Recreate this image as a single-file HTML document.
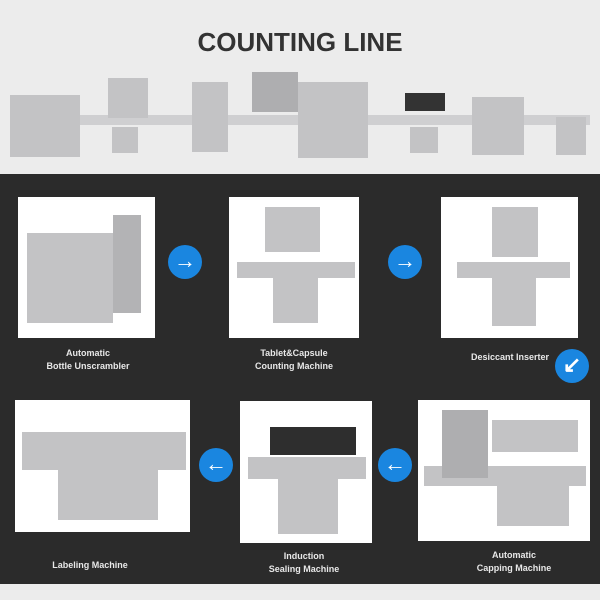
<!DOCTYPE html>
<html><head><style>
body{margin:0;width:600px;height:600px;overflow:hidden;background:#ececec;font-family:"Liberation Sans",sans-serif;position:relative}
.a{position:absolute}
.dark{left:0;top:174px;width:600px;height:410px;background:#2b2b2b}
.box{position:absolute;background:#fff}
.m{position:absolute;background:#c3c3c5}
.m2{position:absolute;background:#9a9a9c}
.lbl{position:absolute;color:#e8e8e8;font-size:9px;font-weight:bold;text-align:center;line-height:13px}
.arr{position:absolute;width:34px;height:34px;border-radius:50%;background:#1a86e0;color:#fff;font-size:22px;line-height:32px;text-align:center;font-weight:bold}
</style></head><body>
<div class="a" style="left:0;top:27px;width:600px;text-align:center;font-size:26px;font-weight:bold;color:#333;letter-spacing:0px">COUNTING LINE</div>
<div class="m" style="left:10px;top:95px;width:70px;height:62px"></div>
<div class="m" style="left:80px;top:115px;width:510px;height:10px;background:#cfcfd1"></div>
<div class="m" style="left:108px;top:78px;width:40px;height:40px"></div>
<div class="m" style="left:112px;top:127px;width:26px;height:26px"></div>
<div class="m" style="left:192px;top:82px;width:36px;height:70px"></div>
<div class="m" style="left:252px;top:72px;width:46px;height:40px;background:#aeaeb0"></div>
<div class="m" style="left:298px;top:82px;width:70px;height:76px"></div>
<div class="m2" style="left:405px;top:93px;width:40px;height:18px;background:#333"></div>
<div class="m" style="left:410px;top:127px;width:28px;height:26px"></div>
<div class="m" style="left:472px;top:97px;width:52px;height:58px"></div>
<div class="m" style="left:556px;top:117px;width:30px;height:38px"></div>
<div class="dark a"></div>
<div class="box" style="left:18px;top:197px;width:137px;height:141px"></div>
<div class="m" style="left:27px;top:233px;width:86px;height:90px"></div>
<div class="m" style="left:113px;top:215px;width:28px;height:98px;background:#b3b3b5"></div>
<div class="box" style="left:229px;top:197px;width:130px;height:141px"></div>
<div class="m" style="left:265px;top:207px;width:55px;height:45px"></div>
<div class="m" style="left:237px;top:262px;width:118px;height:16px"></div>
<div class="m" style="left:273px;top:278px;width:45px;height:45px"></div>
<div class="box" style="left:441px;top:197px;width:137px;height:141px"></div>
<div class="m" style="left:492px;top:207px;width:46px;height:50px"></div>
<div class="m" style="left:457px;top:262px;width:113px;height:16px"></div>
<div class="m" style="left:492px;top:278px;width:44px;height:48px"></div>
<div class="box" style="left:15px;top:400px;width:175px;height:132px"></div>
<div class="m" style="left:22px;top:432px;width:164px;height:38px"></div>
<div class="m" style="left:58px;top:470px;width:100px;height:50px"></div>
<div class="box" style="left:240px;top:401px;width:132px;height:142px"></div>
<div class="m2" style="left:270px;top:427px;width:86px;height:28px;background:#2e2e2e"></div>
<div class="m" style="left:248px;top:457px;width:118px;height:22px"></div>
<div class="m" style="left:278px;top:479px;width:60px;height:55px"></div>
<div class="box" style="left:418px;top:400px;width:172px;height:141px"></div>
<div class="m" style="left:492px;top:420px;width:86px;height:32px"></div>
<div class="m" style="left:424px;top:466px;width:162px;height:20px"></div>
<div class="m" style="left:497px;top:486px;width:72px;height:40px"></div>
<div class="m" style="left:442px;top:410px;width:46px;height:68px;background:#aeaeb0"></div>
<div class="arr" style="left:168px;top:245px">→</div>
<div class="arr" style="left:388px;top:245px">→</div>
<div class="arr" style="left:555px;top:349px">↙</div>
<div class="arr" style="left:199px;top:448px">←</div>
<div class="arr" style="left:378px;top:448px">←</div>
<div class="lbl" style="left:18px;top:347px;width:140px">Automatic<br>Bottle Unscrambler</div>
<div class="lbl" style="left:224px;top:347px;width:140px">Tablet&amp;Capsule<br>Counting Machine</div>
<div class="lbl" style="left:440px;top:351px;width:140px">Desiccant Inserter</div>
<div class="lbl" style="left:20px;top:559px;width:140px">Labeling Machine</div>
<div class="lbl" style="left:234px;top:550px;width:140px">Induction<br>Sealing Machine</div>
<div class="lbl" style="left:444px;top:549px;width:140px">Automatic<br>Capping Machine</div>
</body></html>
